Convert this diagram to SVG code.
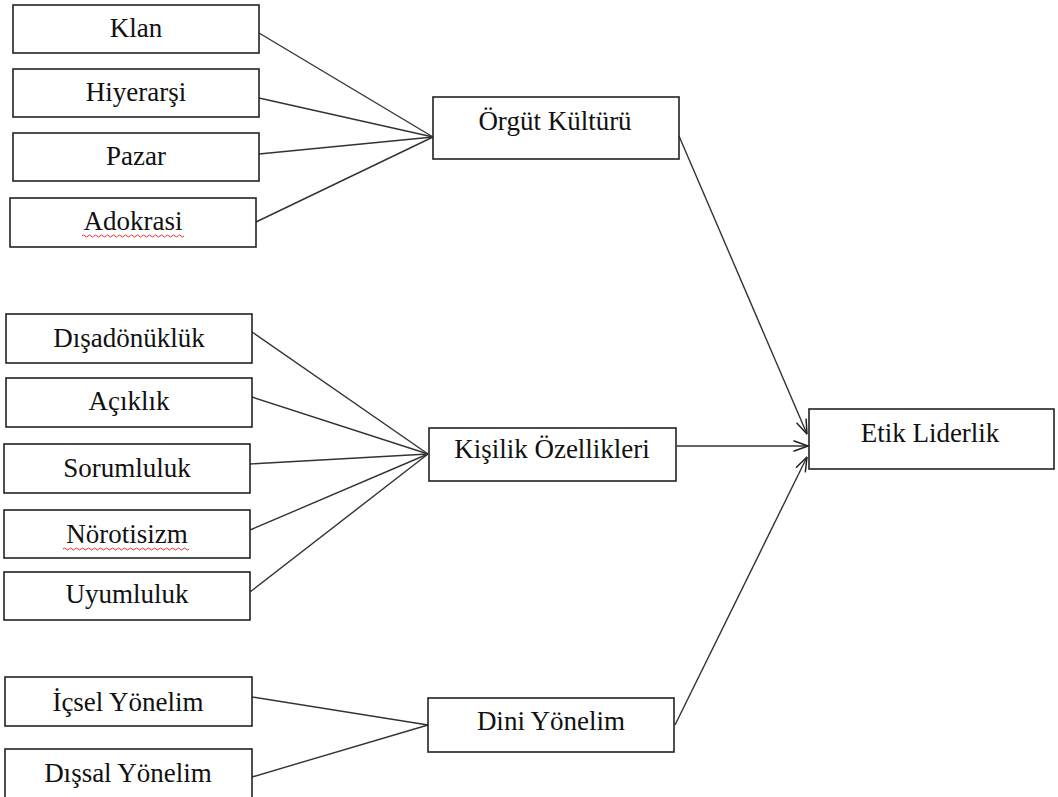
<svg xmlns="http://www.w3.org/2000/svg" width="1058" height="797" viewBox="0 0 1058 797">
<style>
.box{fill:#fff;stroke:#222;stroke-width:1.6}
.lbl{font-family:"Liberation Serif","Times New Roman",serif;font-size:27px;fill:#111;text-anchor:middle}
.ln{stroke:#333;stroke-width:1.4;fill:none}
.sq{stroke:#e03030;stroke-width:1;fill:none}
</style>
<defs>
<marker id="arr" viewBox="0 0 16 12" refX="15.5" refY="6" markerWidth="16" markerHeight="12" markerUnits="userSpaceOnUse" orient="auto">
<path d="M1,0.8 L15.5,6 L1,11.2" fill="none" stroke="#222" stroke-width="1.5"/>
</marker>
</defs>
<rect width="1058" height="797" fill="#fff"/>
<g id="connectors">
<line class="ln" x1="259" y1="33" x2="433" y2="137"/>
<line class="ln" x1="259" y1="98" x2="433" y2="137"/>
<line class="ln" x1="259" y1="154" x2="433" y2="137"/>
<line class="ln" x1="256" y1="222" x2="433" y2="137"/>
<line class="ln" x1="252" y1="332" x2="428" y2="454"/>
<line class="ln" x1="252" y1="397" x2="428" y2="454"/>
<line class="ln" x1="250" y1="464" x2="428" y2="454"/>
<line class="ln" x1="250" y1="530" x2="428" y2="454"/>
<line class="ln" x1="250" y1="592" x2="428" y2="454"/>
<line class="ln" x1="252" y1="697" x2="428" y2="725"/>
<line class="ln" x1="252" y1="777" x2="428" y2="725"/>
<line class="ln" x1="679" y1="136" x2="807" y2="434" marker-end="url(#arr)"/>
<line class="ln" x1="677" y1="446" x2="808" y2="446" marker-end="url(#arr)"/>
<line class="ln" x1="675" y1="725" x2="807" y2="457" marker-end="url(#arr)"/>
</g>
<g id="klan"><rect class="box" x="13" y="5" width="246" height="48"/><text class="lbl" x="136" y="37">Klan</text></g>
<g id="hiyerarsi"><rect class="box" x="13" y="69" width="246" height="48"/><text class="lbl" x="136" y="101">Hiyerarşi</text></g>
<g id="pazar"><rect class="box" x="13" y="133" width="246" height="48"/><text class="lbl" x="136" y="165">Pazar</text></g>
<g id="adokrasi"><rect class="box" x="10" y="198" width="246" height="49"/><text class="lbl" x="133" y="230">Adokrasi</text>
<path class="sq" d="M82,236 q1.5,-2 3,0 t3,0 t3,0 t3,0 t3,0 t3,0 t3,0 t3,0 t3,0 t3,0 t3,0 t3,0 t3,0 t3,0 t3,0 t3,0 t3,0 t3,0 t3,0 t3,0 t3,0 t3,0 t3,0 t3,0 t3,0 t3,0 t3,0 t3,0 t3,0 t3,0 t3,0 t3,0 t3,0 t3,0"/></g>
<g id="orgut"><rect class="box" x="433" y="97" width="246" height="62"/><text class="lbl" x="555" y="130">Örgüt Kültürü</text></g>
<g id="disadonukluk"><rect class="box" x="6" y="314" width="246" height="49"/><text class="lbl" x="129" y="347">Dışadönüklük</text></g>
<g id="aciklik"><rect class="box" x="6" y="378" width="246" height="49"/><text class="lbl" x="129" y="410">Açıklık</text></g>
<g id="sorumluluk"><rect class="box" x="4" y="444" width="246" height="49"/><text class="lbl" x="127" y="477">Sorumluluk</text></g>
<g id="norotisizm"><rect class="box" x="4" y="510" width="246" height="48"/><text class="lbl" x="127" y="543">Nörotisizm</text>
<path class="sq" d="M63,549 q1.5,-2 3,0 t3,0 t3,0 t3,0 t3,0 t3,0 t3,0 t3,0 t3,0 t3,0 t3,0 t3,0 t3,0 t3,0 t3,0 t3,0 t3,0 t3,0 t3,0 t3,0 t3,0 t3,0 t3,0 t3,0 t3,0 t3,0 t3,0 t3,0 t3,0 t3,0 t3,0 t3,0 t3,0 t3,0 t3,0 t3,0 t3,0 t3,0 t3,0 t3,0 t3,0 t3,0"/></g>
<g id="uyumluluk"><rect class="box" x="4" y="572" width="246" height="48"/><text class="lbl" x="127" y="603">Uyumluluk</text></g>
<g id="kisilik"><rect class="box" x="429" y="428" width="247" height="53"/><text class="lbl" x="552" y="458">Kişilik Özellikleri</text></g>
<g id="etik"><rect class="box" x="809" y="409" width="245" height="60"/><text class="lbl" x="930" y="442">Etik Liderlik</text></g>
<g id="icsel"><rect class="box" x="5" y="677" width="247" height="49"/><text class="lbl" x="128" y="711">İçsel Yönelim</text></g>
<g id="dissal"><rect class="box" x="5" y="749" width="247" height="60"/><text class="lbl" x="128" y="782">Dışsal Yönelim</text></g>
<g id="dini"><rect class="box" x="428" y="698" width="246" height="54"/><text class="lbl" x="551" y="730">Dini Yönelim</text></g>
</svg>
